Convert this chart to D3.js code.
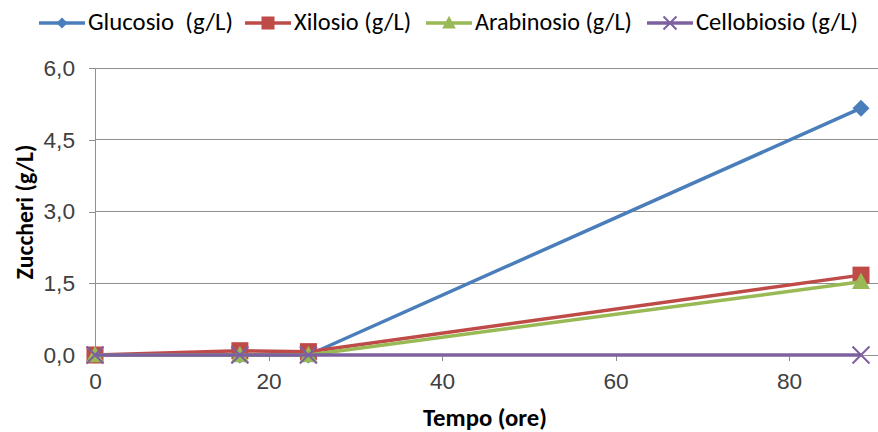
<!DOCTYPE html>
<html>
<head>
<meta charset="utf-8">
<script src="https://cdn.jsdelivr.net/npm/d3@7/dist/d3.min.js"></script>
<style>
  html, body { margin: 0; padding: 0; background: #fff; }
  svg { display: block; font-family: Carlito, "Liberation Sans Narrow", "Open Sans", sans-serif; }
  text { white-space: pre; }
</style>
</head>
<body>
<svg id="chart" width="878" height="432"></svg>
<script>
// Sampling times (hours)
const tempo = [0, 16.7, 24.6, 88.3];

// Sugar concentrations (g/L) per series
const glucosio    = [0, 0, 0, 5.16];
const xilosio     = [0, 0.09, 0.07, 1.67];
const arabinosio  = [0, 0, 0, 1.53];
const cellobiosio = [0, 0, 0, 0];

const seriesNames  = ["Glucosio  (g/L)", "Xilosio (g/L)", "Arabinosio (g/L)", "Cellobiosio (g/L)"];
const seriesColors = ["#4A7EBB", "#BE4B48", "#98B954", "#7D60A0"];
const seriesMarks  = ["diamond", "square", "triangle", "cross"];
const seriesValues = [glucosio, xilosio, arabinosio, cellobiosio];

const xTicks = [0, 20, 40, 60, 80];
const yTicks = [0, 1.5, 3.0, 4.5, 6.0];

const svg = d3.select("#chart");
const plotL = 95, plotR = 878, plotT = 68, plotB = 355;

const x = d3.scaleLinear().domain([0, 80]).range([plotL, 789]);
const y = d3.scaleLinear().domain([0, 6]).range([plotB, plotT]);
const fmt = v => d3.format(".1f")(v).replace(".", ",");

// Scale a text element's font so its rendered width equals `w`
function fitWidth(sel, w) {
  sel.each(function () {
    const base = 20;
    this.setAttribute("font-size", base);
    const len = this.getComputedTextLength();
    this.setAttribute("font-size", (base * w / len).toFixed(2));
  });
  return sel;
}

// Font size used for tick labels (an "20" label is ~23px wide)
const probe = svg.append("text").attr("font-size", 20).text("20");
const tickFont = 20 * 23 / probe.node().getComputedTextLength();
probe.remove();

// Horizontal gridlines
svg.append("g").selectAll("line").data(yTicks.filter(d => d > 0)).join("line")
  .attr("x1", plotL).attr("x2", plotR)
  .attr("y1", d => y(d)).attr("y2", d => y(d))
  .attr("stroke", "#8f8f8f").attr("stroke-width", 1).attr("shape-rendering", "crispEdges");

// Y axis
const yAxis = d3.axisLeft(y).tickValues(yTicks).tickFormat(fmt).tickSize(6).tickPadding(14);
const gy = svg.append("g").attr("transform", `translate(${plotL},0)`).call(yAxis);
gy.select(".domain").attr("stroke", "#8f8f8f").attr("d", `M-0,${plotB}V${plotT}`);
gy.selectAll(".tick line").attr("stroke", "#8f8f8f");
gy.selectAll(".tick text").attr("font-size", tickFont).attr("fill", "#404040").attr("font-family", "inherit");

// X axis
const xAxis = d3.axisBottom(x).tickValues(xTicks).tickFormat(d3.format("d")).tickSize(6).tickPadding(16);
const gx = svg.append("g").attr("transform", `translate(0,${plotB})`).call(xAxis);
gx.select(".domain").attr("stroke", "#8f8f8f").attr("d", `M${plotL},0H${plotR}`);
gx.selectAll(".tick line").attr("stroke", "#8f8f8f");
gx.selectAll(".tick text").attr("font-size", tickFont).attr("fill", "#404040").attr("font-family", "inherit").attr("dy", "0.55em");
svg.selectAll(".domain, .tick line").attr("shape-rendering", "crispEdges");

// Axis titles
fitWidth(svg.append("text").attr("x", 485).attr("y", 426).attr("text-anchor", "middle")
  .attr("font-weight", "bold").attr("fill", "#000").text("Tempo (ore)"), 124);
fitWidth(svg.append("text").attr("transform", "translate(33,212) rotate(-90)").attr("text-anchor", "middle")
  .attr("font-weight", "bold").attr("fill", "#000").text("Zuccheri (g/L)"), 135);

// Marker drawing
function drawMarker(g, kind, color, cx, cy, s) {
  if (kind === "diamond") {
    g.append("path").attr("d", `M${cx},${cy - s}L${cx + s},${cy}L${cx},${cy + s}L${cx - s},${cy}Z`).attr("fill", color);
  } else if (kind === "square") {
    g.append("rect").attr("x", cx - s).attr("y", cy - s).attr("width", 2 * s).attr("height", 2 * s).attr("fill", color);
  } else if (kind === "triangle") {
    g.append("path").attr("d", `M${cx},${cy - s * 1.1}L${cx + s * 1.05},${cy + s * 0.85}L${cx - s * 1.05},${cy + s * 0.85}Z`).attr("fill", color);
  } else if (kind === "cross") {
    g.append("path").attr("d", `M${cx - s},${cy - s}L${cx + s},${cy + s}M${cx - s},${cy + s}L${cx + s},${cy - s}`)
      .attr("stroke", color).attr("stroke-width", 2).attr("fill", "none");
  }
}

// Series lines and markers
const line = d3.line().x(d => x(d[0])).y(d => y(d[1]));
seriesValues.forEach((vals, i) => {
  const pts = tempo.map((t, k) => [t, vals[k]]);
  const g = svg.append("g");
  g.append("path").attr("d", line(pts)).attr("fill", "none")
    .attr("stroke", seriesColors[i]).attr("stroke-width", 3.5).attr("stroke-linejoin", "round");
  pts.forEach(p => drawMarker(g, seriesMarks[i], seriesColors[i], x(p[0]), y(p[1]), 8.5));
});

// Legend: swatch start positions and text widths
const legendX = [39, 245, 426, 647];
const legendW = [145, 117, 157, 162];
const lg = svg.append("g");
seriesNames.forEach((name, i) => {
  const lx = legendX[i], ly = 23;
  lg.append("line").attr("x1", lx).attr("x2", lx + 46).attr("y1", ly).attr("y2", ly)
    .attr("stroke", seriesColors[i]).attr("stroke-width", 3.5);
  drawMarker(lg, seriesMarks[i], seriesColors[i], lx + 23, ly, seriesMarks[i] === "diamond" ? 5.5 : 6.5);
  fitWidth(lg.append("text").attr("x", lx + 49).attr("y", 30).attr("fill", "#000").text(name), legendW[i]);
});
</script>
</body>
</html>
